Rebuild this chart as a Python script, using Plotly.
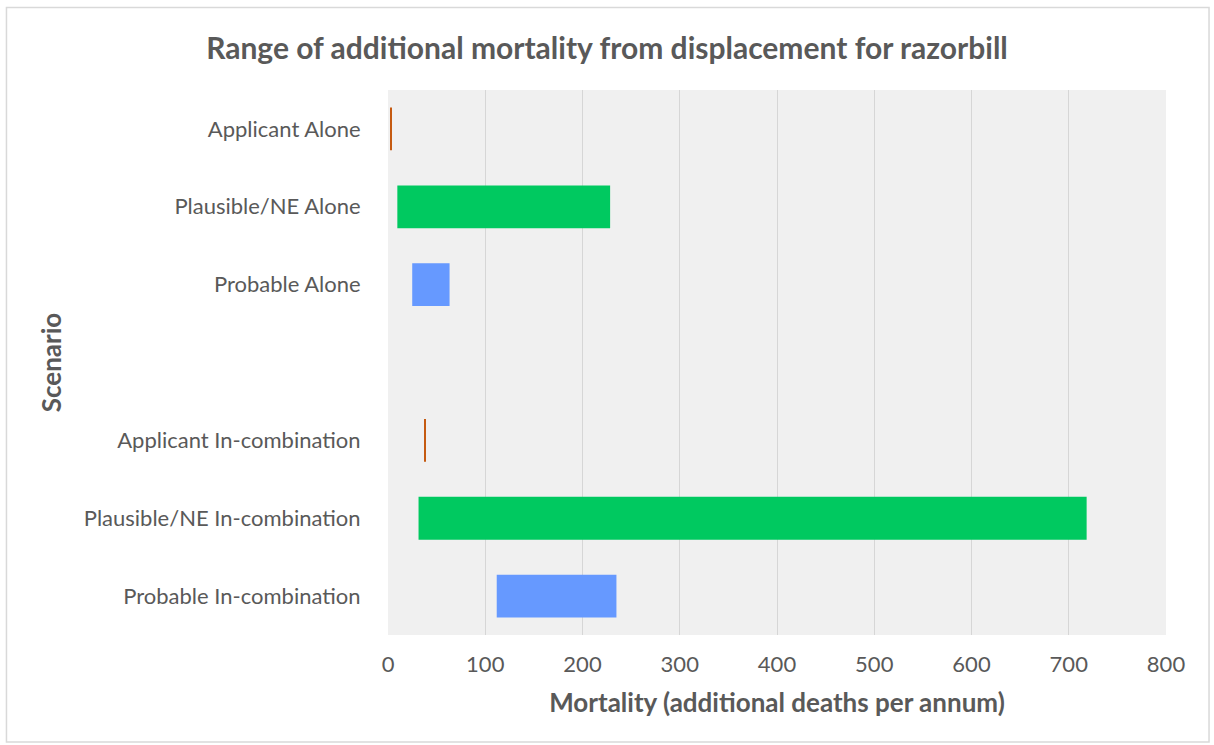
import plotly.graph_objects as go

# Scenario rows, top to bottom (blank spacer separates "Alone" from "In-combination")
categories = [
    "Applicant Alone",
    "Plausible/NE Alone",
    "Probable Alone",
    " ",
    "Applicant In-combination",
    "Plausible/NE In-combination",
    "Probable In-combination",
]

# Mortality ranges (additional deaths per annum): lower and upper bounds
applicant_rows = ["Applicant Alone", "Applicant In-combination"]
applicant_low = [2.2, 37.3]
applicant_high = [3.2, 38.3]

plausible_rows = ["Plausible/NE Alone", "Plausible/NE In-combination"]
plausible_low = [9.6, 31.4]
plausible_high = [228.4, 718.4]

probable_rows = ["Probable Alone", "Probable In-combination"]
probable_low = [24.9, 111.8]
probable_high = [63.3, 234.9]

x_ticks = [0, 100, 200, 300, 400, 500, 600, 700, 800]

TEXT = "#595959"
FONT = "Lato"


def range_bar(rows, low, high, colour, name):
    return go.Bar(
        y=rows,
        x=[h - l for l, h in zip(low, high)],
        base=low,
        orientation="h",
        width=0.55,
        marker=dict(color=colour, line=dict(width=0)),
        name=name,
        hoverinfo="skip",
    )


fig = go.Figure()
fig.add_trace(range_bar(applicant_rows, applicant_low, applicant_high, "#C55A11", "Applicant"))
fig.add_trace(range_bar(plausible_rows, plausible_low, plausible_high, "#00C960", "Plausible/NE"))
fig.add_trace(range_bar(probable_rows, probable_low, probable_high, "#6699FF", "Probable"))

# Light frame around the whole chart
fig.add_shape(
    type="rect", xref="paper", yref="paper",
    x0=-0.4904, x1=1.0553, y0=-0.1963, y1=1.1514,
    line=dict(color="#D9D9D9", width=1.5), fillcolor="rgba(0,0,0,0)", layer="below",
)

fig.update_layout(
    width=1214,
    height=745,
    margin=dict(l=388, r=48, t=90, b=110),
    paper_bgcolor="white",
    plot_bgcolor="#F0F0F0",
    barmode="overlay",
    showlegend=False,
    font=dict(family=FONT, color=TEXT, size=22),
    title=dict(
        text="<b>Range of additional mortality from displacement for razorbill</b>",
        x=0.5, xref="container", xanchor="center",
        y=0.935, yref="container", yanchor="middle",
        font=dict(family=FONT, size=30, color=TEXT),
    ),
    xaxis=dict(
        range=[0, 800],
        tickvals=x_ticks,
        ticktext=[str(v) for v in x_ticks],
        showgrid=True,
        gridcolor="#D6D6D6",
        gridwidth=1,
        zeroline=False,
        showline=False,
        ticks="outside",
        ticklen=10,
        tickcolor="rgba(0,0,0,0)",
        tickfont=dict(size=22, color=TEXT),
        title=dict(
            text="<b>Mortality (additional deaths per annum)</b>",
            font=dict(size=26, color=TEXT),
            standoff=17,
        ),
    ),
    yaxis=dict(
        type="category",
        categoryorder="array",
        categoryarray=categories,
        range=[6.5, -0.5],
        showgrid=False,
        zeroline=False,
        showline=False,
        ticks="outside",
        ticklen=22,
        tickcolor="rgba(0,0,0,0)",
        tickfont=dict(size=22, color=TEXT),
        title=dict(
            text="<b>Scenario</b>",
            font=dict(size=26, color=TEXT),
            standoff=14,
        ),
    ),
)

fig.write_html("out.html")
